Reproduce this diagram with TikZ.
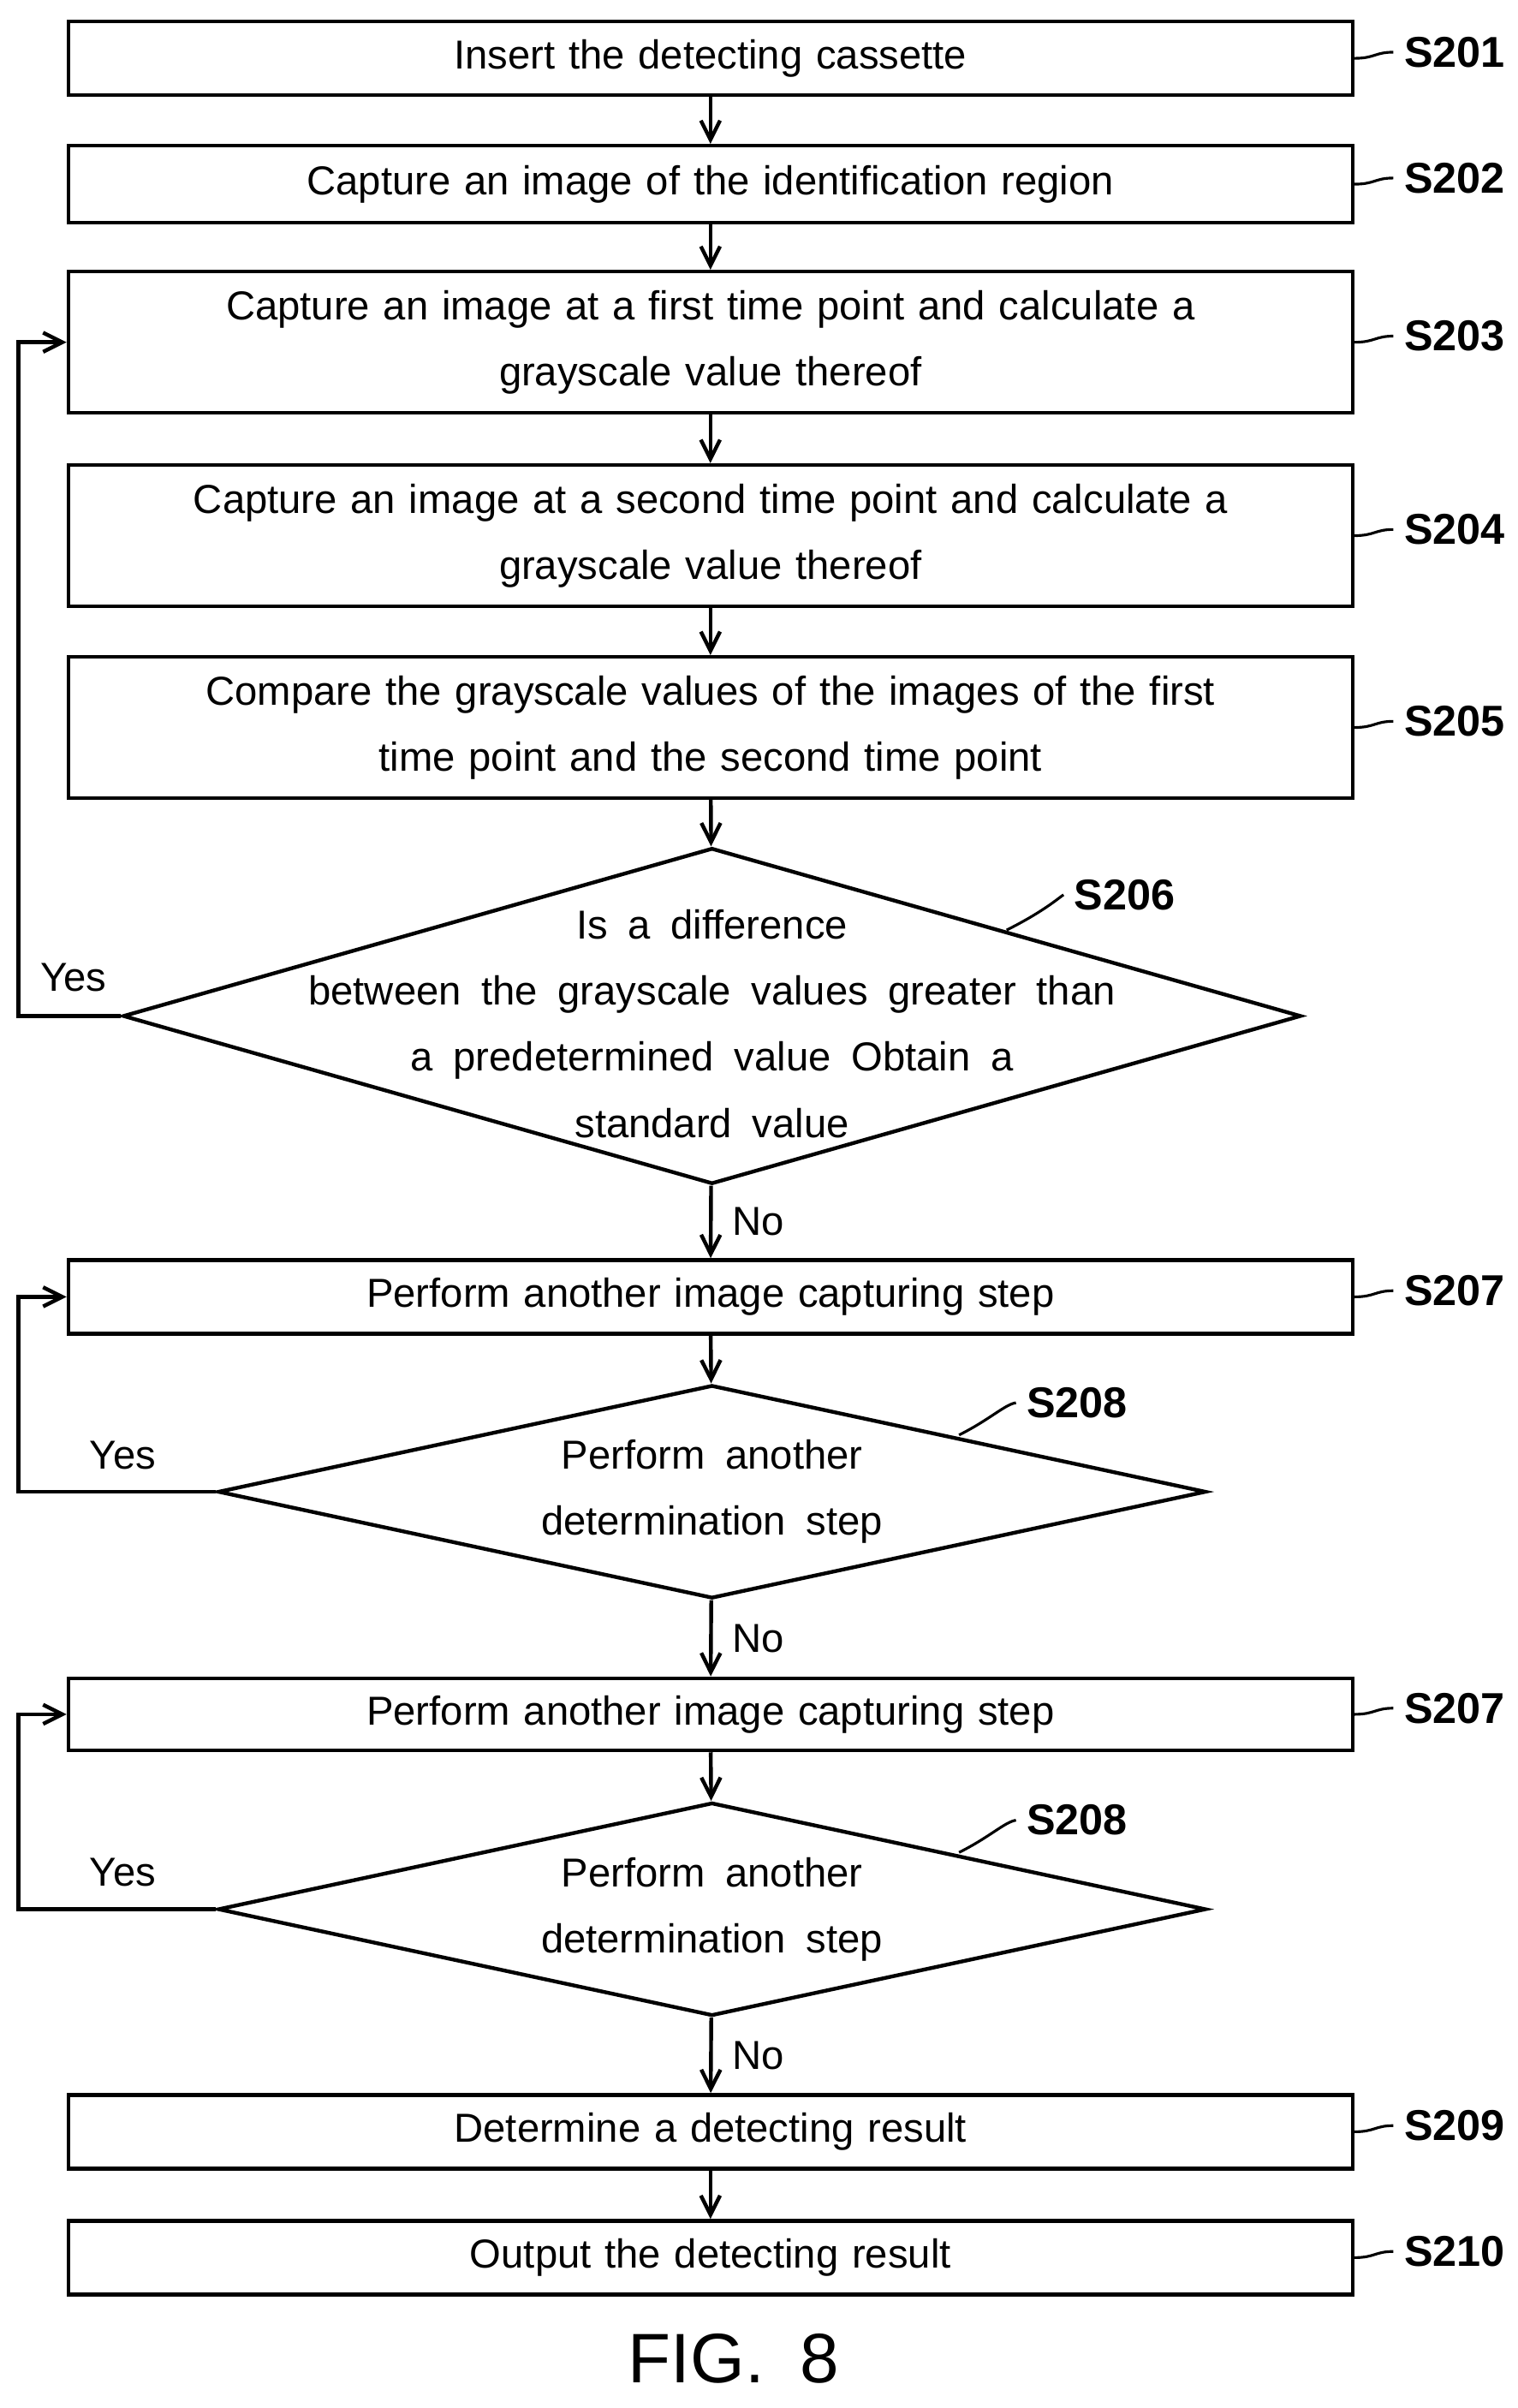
\documentclass[tikz,border=0pt]{standalone}
\usepackage{fontspec}
\setmainfont[WordSpace={1.8}]{Liberation Sans}
\usetikzlibrary{arrows.meta,positioning,shapes.geometric}

\begin{document}
\begin{tikzpicture}[
  x=0.02cm, y=-0.02cm,
  >={Straight Barb[length=2.5mm,width=2.5mm]},
  line width=1.4pt,
  box/.style={draw, minimum width=16.74cm, align=center, inner sep=0pt,
    font=\fontsize{15}{24.5}\selectfont, text width=16.4cm},
  dia/.style={draw, diamond, inner sep=0pt},
  txt/.style={align=center, font=\fontsize{15}{24.5}\selectfont},
  steplab/.style={font=\fontsize{16}{18}\selectfont\bfseries},
  lead/.style={line width=1pt},
]
  \useasboundingbox (0,0) rectangle (989,1569);

  % boxes
  \node[box, minimum height=0.96cm] (s201) at (463,38) {Insert the detecting cassette};
  \node[box, minimum height=1.0cm] (s202) at (463,120) {Capture an image of the identification region};
  \node[box, minimum height=1.84cm] (s203) at (463,223) {Capture an image at a first time point and calculate a\\grayscale value thereof};
  \node[box, minimum height=1.84cm] (s204) at (463,349) {Capture an image at a second time point and calculate a\\grayscale value thereof};
  \node[box, minimum height=1.84cm] (s205) at (463,474) {Compare the grayscale values of the images of the first\\time point and the second time point};

  % first decision
  \node[dia, minimum width=15.36cm, minimum height=4.38cm] (s206) at (464,662) {};
  \node[txt] (s206t) at (464,667) {Is a difference\\between the grayscale values greater than\\a predetermined value Obtain a\\standard value};

  \node[box, minimum height=0.96cm] (s207a) at (463,845) {Perform another image capturing step};
  \node[dia, minimum width=12.88cm, minimum height=2.78cm] (s208a) at (464,972) {};
  \node[txt] at (464,972) {Perform another\\determination step};

  \node[box, minimum height=0.94cm] (s207b) at (463,1117) {Perform another image capturing step};
  \node[dia, minimum width=12.88cm, minimum height=2.78cm] (s208b) at (464,1244) {};
  \node[txt] at (464,1244) {Perform another\\determination step};

  \node[box, minimum height=0.96cm] (s209) at (463,1389) {Determine a detecting result};
  \node[box, minimum height=0.96cm] (s210) at (463,1471) {Output the detecting result};

  \node[font=\fontsize{26}{30}\selectfont] (fig) at (478,1537) {FIG. 8};

  % main flow
  \draw[->] (s201) -- (s202);
  \draw[->] (s202) -- (s203);
  \draw[->] (s203) -- (s204);
  \draw[->] (s204) -- (s205);
  \draw[->] (s205) -- (s206);
  \draw[->] (s206) -- node[right=4pt, txt] {No} (s207a);
  \draw[->] (s207a) -- (s208a);
  \draw[->] (s208a) -- node[right=4pt, txt] {No} (s207b);
  \draw[->] (s207b) -- (s208b);
  \draw[->] (s208b) -- node[right=4pt, txt] {No} (s209);
  \draw[->] (s209) -- (s210);

  % loops
  \draw[->] (s206.west) -- (12,662) -- (12,223) -- (s203.west);
  \node[txt] at (48,637) {Yes};
  \draw[->] (s208a.west) -- (12,972) -- (12,845) -- (s207a.west);
  \node[txt] at (80,948) {Yes};
  \draw[->] (s208b.west) -- (12,1244) -- (12,1117) -- (s207b.west);
  \node[txt] at (80,1220) {Yes};

  % step labels
  \foreach \n/\y/\t in {s201/38/S201, s202/120/S202, s203/223/S203, s204/349/S204,
      s205/474/S205, s207a/845/S207, s207b/1117/S207, s209/1389/S209, s210/1471/S210} {
    \node[steplab, anchor=west] (l\n) at (908,\y-4) {\t};
    \draw[lead] (\n.east) .. controls (896,\y) and (896,\y-4) .. (l\n.west);
  }
  \node[steplab] (l206) at (733,583) {S206};
  \draw[lead] (656,606) .. controls (680,594) and (690,585) .. (l206.west);
  \node[steplab] (l208a) at (702,914) {S208};
  \draw[lead] (625,935) .. controls (645,925) and (655,915) .. (l208a.west);
  \node[steplab] (l208b) at (702,1186) {S208};
  \draw[lead] (625,1207) .. controls (645,1197) and (655,1187) .. (l208b.west);
\end{tikzpicture}
\end{document}
